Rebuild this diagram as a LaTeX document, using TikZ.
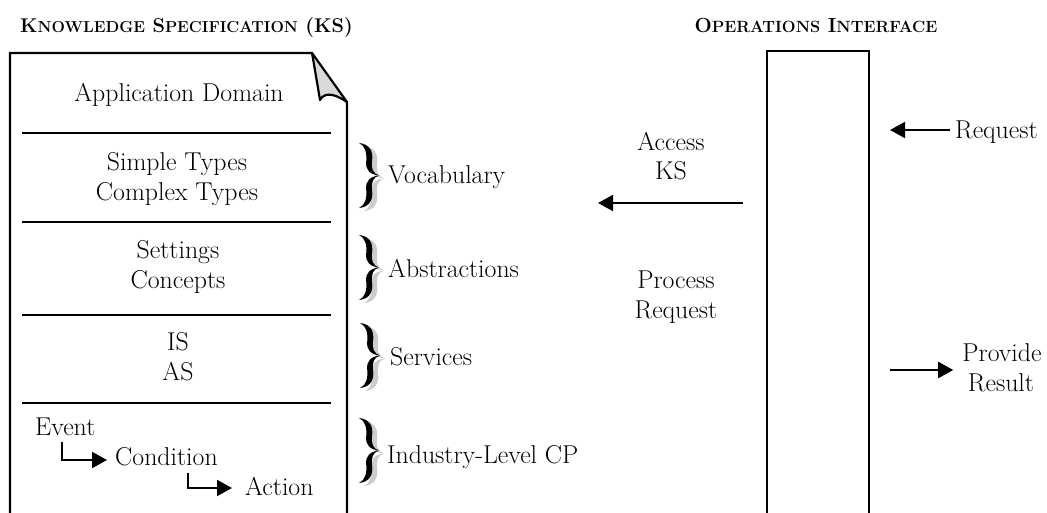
\documentclass[tikz,border=0pt]{standalone}
\usepackage{fontspec}
\setmainfont{Latin Modern Roman}
\usetikzlibrary{arrows.meta,calc}

% bold small-caps imitation: capitals set at a smaller size
\newcommand{\smc}[2][16.3]{{\fontsize{#1}{19}\selectfont #2}}

% one arm of a calligraphic curly brace (top tip at origin, y downwards)
\newcommand{\cbraceupper}{(0,0) .. controls (11,1) and (14.5,9) .. (13,18)
  .. controls (12,25) and (14,31) .. (20,32.5)
  .. controls (11,31.5) and (6.5,27) .. (7.2,19)
  .. controls (8,10) and (6.5,3) .. (0,0) -- cycle}
\newcommand{\cbracelower}{(0,65) .. controls (11,64) and (14.5,56) .. (13,47)
  .. controls (12,40) and (14,34) .. (20,32.5)
  .. controls (11,33.5) and (6.5,38) .. (7.2,46)
  .. controls (8,55) and (6.5,62) .. (0,65) -- cycle}

\tikzset{
  txt/.style={inner sep=0pt, font=\fontsize{25.8}{30}\selectfont},
  ttl/.style={inner sep=0pt, font=\fontsize{20.4}{23}\selectfont\bfseries},
  frame/.style={line width=2.2pt, line join=miter},
  sep/.style={line width=2.2pt},
  arr/.style={line width=2pt, -{Triangle[length=15pt,width=16pt]}},
  pics/cbrace/.style={code={
    \fill[gray!40] [shift={(5,3)}] \cbraceupper;
    \fill[gray!40] [shift={(5,3)}] \cbracelower;
    \fill[black] \cbraceupper;
    \fill[black] \cbracelower;
  }}
}

\begin{document}
\begin{tikzpicture}[x=1pt,y=-1pt]
\useasboundingbox (0,0) rectangle (1047,512);
\clip (0,0) rectangle (1047,512);
\fill[white] (0,0) rectangle (1047,512);

% ---------- titles ----------
\node[ttl, anchor=base west, font=\fontsize{19.9}{23}\selectfont\bfseries] (kstitle) at (20,32)
  {K\smc[15.9]{NOWLEDGE} S\smc[15.9]{PECIFICATION} (KS)};
\node[ttl, anchor=base] (optitle) at (816,32)
  {O\smc{PERATIONS} I\smc{NTERFACE}};

% ---------- knowledge specification document ----------
\fill[gray!30] (312,53) .. controls (315,70) and (318,88) .. (320,100)
  .. controls (324,93) and (332,92) .. (347,102) -- cycle;
\draw[frame] (10,530) -- (10,53) -- (312,53) -- (347,102) -- (347,530);
\draw[frame, line join=round] (312,53) .. controls (315,70) and (318,88) .. (320,100)
  .. controls (324,93) and (332,92) .. (347,102);

\draw[sep] (22,133) -- (331,133);
\draw[sep] (22,222) -- (331,222);
\draw[sep] (22,315) -- (331,315);
\draw[sep] (22,403) -- (331,403);

\node[txt, anchor=base] (appdom) at (179,101) {Application Domain};
\node[txt, anchor=base] (simple) at (177,170) {Simple Types};
\node[txt, anchor=base] (complex) at (177,200) {Complex Types};
\node[txt, anchor=base] (settings) at (178,258) {Settings};
\node[txt, anchor=base] (concepts) at (178,288) {Concepts};
\node[txt, anchor=base] (is) at (178,350) {IS};
\node[txt, anchor=base] (as) at (178,380) {AS};

\node[txt, anchor=base west] (ev) at (35,435) {Event};
\node[txt, anchor=base west] (cond) at (115,465) {Condition};
\node[txt, anchor=base west] (act) at (245,495) {Action};
\draw[arr] ($(ev.base west)+(27,7)$) |- ($(cond.base west)+(-8,-5)$);
\draw[arr] ($(cond.base west)+(73,8)$) |- ($(act.base west)+(-13,-7)$);

% ---------- braces and their labels ----------
\pic at (359,143) {cbrace};
\pic at (359,235) {cbrace};
\pic at (360,323) {cbrace};
\pic at (359,418) {cbrace};
\node[txt, anchor=base west] (vocab) at (388,183) {Vocabulary};
\node[txt, anchor=base west] (abstr) at (388,277) {Abstractions};
\node[txt, anchor=base west] (serv) at (390,365) {Services};
\node[txt, anchor=base west] (indcp) at (387,463) {Industry-Level CP};

% ---------- operations interface ----------
\draw[frame] (767,530) -- (767,51) -- (869,51) -- (869,530);

\node[txt, anchor=base] (access) at (671,150) {Access};
\node[txt, anchor=base] (ks) at (671,179) {KS};
\coordinate (accfrom) at (743,203);
\coordinate (accto) at (598,203);
\draw[arr] (accfrom) -- (accto);

\node[txt, anchor=base] (process) at (676,288) {Process};
\node[txt, anchor=base] (procreq) at (676,318) {Request};

\node[txt, anchor=base west] (req) at (955,138) {Request};
\coordinate (reqto) at (890,130);
\draw[arr] ($(req.base west)+(-5,-8)$) -- (reqto);

\node[txt, anchor=base] (provide) at (1002,361) {Provide};
\node[txt, anchor=base] (result) at (1001,391) {Result};
\coordinate (provfrom) at (890,370);
\draw[arr] (provfrom) -- ($(provide.base west |- provfrom)+(-9,0)$);
\end{tikzpicture}
\end{document}
